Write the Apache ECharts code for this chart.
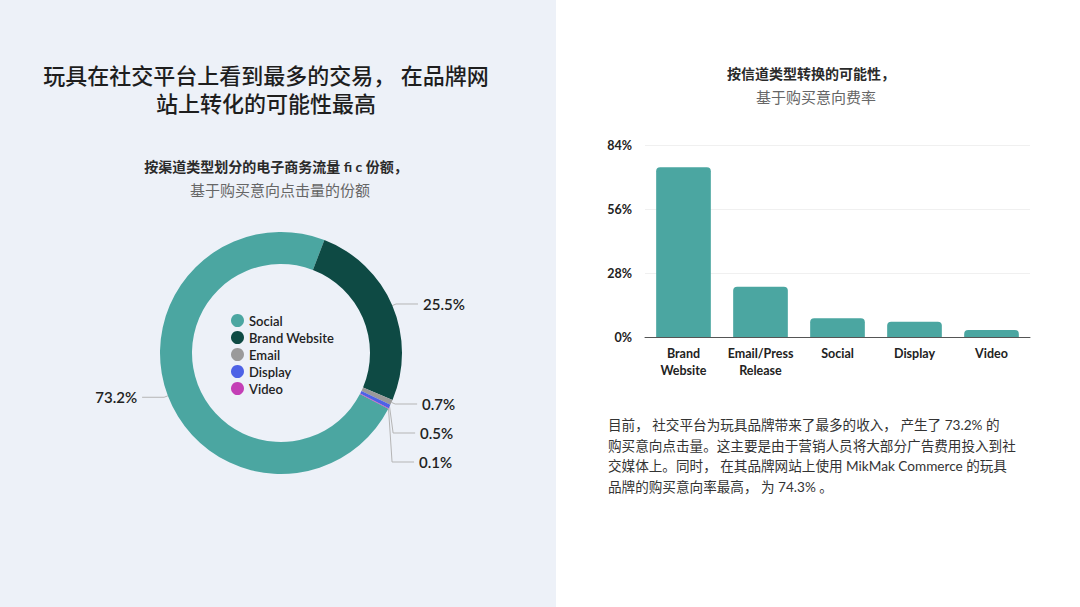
<!DOCTYPE html>
<html>
<head>
<meta charset="utf-8">
<script src="https://cdn.jsdelivr.net/npm/echarts@6/dist/echarts.min.js"></script>
<style>
  html, body { margin: 0; padding: 0; background: #ffffff; }
  #chart { width: 1080px; height: 607px; }
</style>
</head>
<body>
<div id="chart"></div>
<script>
// ---- Data ----
const pieCategories = ['Social', 'Brand Website', 'Email', 'Display', 'Video'];
const pieValues = [73.2, 25.5, 0.7, 0.5, 0.1];
const pieColors = ['#4ba6a1', '#0e4a44', '#9a9a9a', '#4d62e6', '#c43fb6'];

const barCategories = ['Brand\nWebsite', 'Email/Press\nRelease', 'Social', 'Display', 'Video'];
const barValues = [74.3, 22.0, 8.2, 6.7, 3.1];
const yTicks = { min: 0, max: 84, interval: 28 };

const leftTitle = ['玩具在社交平台上看到最多的交易， 在品牌网', '站上转化的可能性最高'];
const leftSub1 = '按渠道类型划分的电子商务流量 fi c 份额，';
const leftSub2 = '基于购买意向点击量的份额';
const rightSub1 = '按信道类型转换的可能性，';
const rightSub2 = '基于购买意向费率';
const paragraph = [
  '目前， 社交平台为玩具品牌带来了最多的收入， 产生了 73.2% 的',
  '购买意向点击量。这主要是由于营销人员将大部分广告费用投入到社',
  '交媒体上。同时， 在其品牌网站上使用 MikMak Commerce 的玩具',
  '品牌的购买意向率最高， 为 74.3% 。'
];

const FONT = 'Lato, "Noto Sans CJK SC", sans-serif';

const chart = echarts.init(document.getElementById('chart'), null, { renderer: 'svg' });

const graphics = [
  { type: 'rect', left: 0, top: 0, z: -10, silent: true,
    shape: { width: 556, height: 607 }, style: { fill: '#edf1f8' } },
  { type: 'text', x: 266, y: 75, style: { text: leftTitle[0], font: '500 22px ' + FONT, lineHeight: 24, fill: '#1e1e1e', textAlign: 'center', textVerticalAlign: 'middle' } },
  { type: 'text', x: 266, y: 103, style: { text: leftTitle[1], font: '500 22px ' + FONT, lineHeight: 24, fill: '#1e1e1e', textAlign: 'center', textVerticalAlign: 'middle' } },
  { type: 'text', x: 276, y: 166, style: { text: leftSub1, font: 'bold 14px ' + FONT, fill: '#2a2a2a', textAlign: 'center', textVerticalAlign: 'middle' } },
  { type: 'text', x: 280, y: 190, style: { text: leftSub2, font: '15px ' + FONT, fill: '#666666', textAlign: 'center', textVerticalAlign: 'middle' } },
  { type: 'text', x: 811, y: 73, style: { text: rightSub1, font: 'bold 14px ' + FONT, fill: '#2a2a2a', textAlign: 'center', textVerticalAlign: 'middle' } },
  { type: 'text', x: 816, y: 97, style: { text: rightSub2, font: '15px ' + FONT, fill: '#666666', textAlign: 'center', textVerticalAlign: 'middle' } },
  { type: 'text', x: 608, y: 415, style: { text: paragraph.join('\n'), font: '13.6px ' + FONT, lineHeight: 20.5, fill: '#333333', textAlign: 'left', textVerticalAlign: 'top' } }
];

const option = {
  backgroundColor: '#ffffff',
  animation: false,
  graphic: graphics,
  legend: {
    data: pieCategories,
    orient: 'vertical',
    left: 226,
    top: 309,
    itemWidth: 13,
    itemHeight: 13,
    itemGap: 4,
    icon: 'circle',
    selectedMode: false,
    textStyle: { fontFamily: FONT, fontSize: 13, fontWeight: 600, color: '#222222' }
  },
  grid: { left: 645, right: 50, top: 145, bottom: 270 },
  xAxis: {
    type: 'category',
    data: barCategories,
    axisTick: { show: false },
    axisLine: { lineStyle: { color: '#555555', width: 1 } },
    axisLabel: { interval: 0, fontFamily: FONT, fontSize: 12.5, fontWeight: 'bold', color: '#222222', lineHeight: 17, margin: 8 }
  },
  yAxis: {
    type: 'value',
    min: yTicks.min, max: yTicks.max, interval: yTicks.interval,
    axisLine: { show: false },
    axisTick: { show: false },
    splitLine: { lineStyle: { color: '#f0f0f0' } },
    axisLabel: { formatter: '{value}%', fontFamily: FONT, fontSize: 12.5, fontWeight: 'bold', color: '#222222', margin: 13 }
  },
  series: [
    {
      type: 'bar',
      data: barValues,
      barCategoryGap: '29%',
      itemStyle: { color: '#4ba6a1', borderRadius: [4, 4, 0, 0] }
    },
    {
      type: 'pie',
      left: 84, top: 0, width: 392, height: 607,
      center: [197, 353],
      radius: [89, 121],
      startAngle: -27.5,
      clockwise: true,
      avoidLabelOverlap: true,
      color: pieColors,
      data: pieCategories.map(function (n, i) { return { name: n, value: pieValues[i] }; }),
      label: {
        show: true,
        position: 'outside',
        formatter: '{c}%',
        alignTo: 'labelLine',
        edgeDistance: 2,
        lineHeight: 27,
        fontFamily: FONT, fontSize: 15, fontWeight: 600, color: '#222222'
      },
      labelLine: { show: true, length: 4, length2: 22, lineStyle: { color: '#b5b5b5', width: 1 } },
      emphasis: { disabled: true }
    }
  ]
};
chart.setOption(option);
</script>
</body>
</html>
